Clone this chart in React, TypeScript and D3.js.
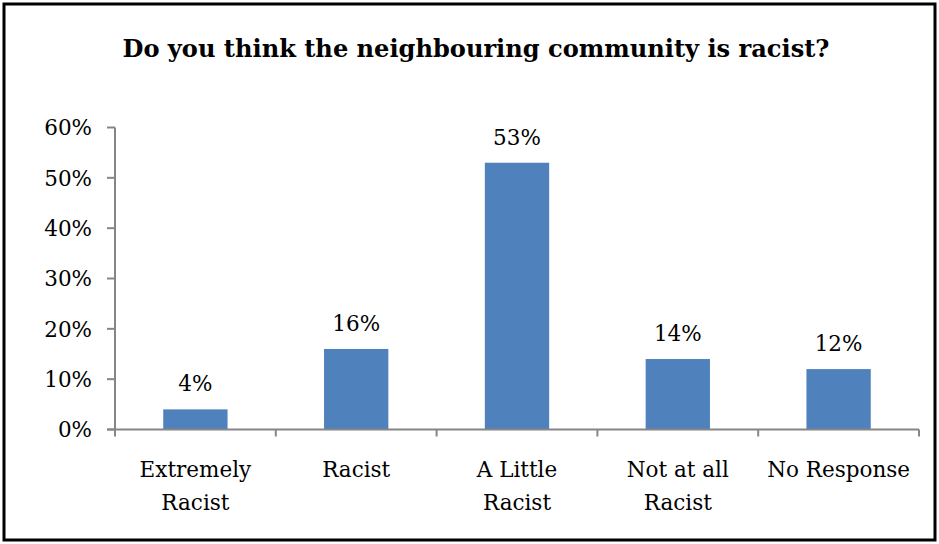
import React from "react";
import * as d3 from "d3";

const categories: string[][] = [
  ["Extremely", "Racist"],
  ["Racist"],
  ["A Little", "Racist"],
  ["Not at all", "Racist"],
  ["No Response"],
];
const values: number[] = [0.04, 0.16, 0.53, 0.14, 0.12];
const valueLabels: string[] = ["4%", "16%", "53%", "14%", "12%"];
const yTicks: number[] = [0, 0.1, 0.2, 0.3, 0.4, 0.5, 0.6];
const title = "Do you think the neighbouring community is racist?";

const W = 939;
const H = 544;
const plot = { left: 115, right: 919, top: 127.5, bottom: 429.5 };
const axisColor = "#868686";
const barColor = "#4F81BD";
const font = "'DejaVu Serif', serif";

export default function App() {
  const keys = categories.map((_, i) => String(i));
  const x = d3
    .scaleBand<string>()
    .domain(keys)
    .range([plot.left, plot.right])
    .paddingInner(0.6)
    .paddingOuter(0.3);
  const band = d3.scaleBand<string>().domain(keys).range([plot.left, plot.right]);
  const y = d3.scaleLinear().domain([0, 0.6]).range([plot.bottom, plot.top]);
  const fmt = d3.format(".0%");

  return (
    <svg
      width={W}
      height={H}
      style={{ position: "absolute", left: 0, top: 0, display: "block", background: "#fff" }}
    >
      <rect x={0} y={0} width={W} height={H} fill="#fff" />
      <rect x={4} y={4} width={931} height={536} fill="none" stroke="#000" strokeWidth={3} />
      <text
        x={476}
        y={57}
        textAnchor="middle"
        fontFamily={font}
        fontWeight="bold"
        fontSize={24.1}
        fill="#000"
      >
        {title}
      </text>

      {/* y axis */}
      <line x1={plot.left} x2={plot.left} y1={plot.top} y2={plot.bottom} stroke={axisColor} strokeWidth={2} />
      {yTicks.map((t) => (
        <g key={t}>
          <line x1={plot.left - 8} x2={plot.left} y1={y(t)} y2={y(t)} stroke={axisColor} strokeWidth={2} />
          <text
            x={92}
            y={y(t)}
            dy="0.36em"
            textAnchor="end"
            fontFamily={font}
            fontSize={21.5}
            fill="#000"
          >
            {fmt(t)}
          </text>
        </g>
      ))}

      {/* bars */}
      {values.map((v, i) => (
        <rect
          key={i}
          x={x(keys[i])!}
          y={y(v)}
          width={x.bandwidth()}
          height={y(0) - y(v)}
          fill={barColor}
        />
      ))}

      {/* x axis */}
      <line x1={plot.left - 8} x2={plot.right} y1={plot.bottom} y2={plot.bottom} stroke={axisColor} strokeWidth={2} />
      {[...keys.map((k) => band(k)!), plot.right].map((px, i) => (
        <line key={i} x1={px} x2={px} y1={plot.bottom} y2={plot.bottom + 7} stroke={axisColor} strokeWidth={2} />
      ))}

      {/* value labels */}
      {values.map((v, i) => (
        <text
          key={i}
          x={x(keys[i])! + x.bandwidth() / 2}
          y={y(v) - 18}
          textAnchor="middle"
          fontFamily={font}
          fontSize={21.5}
          fill="#000"
        >
          {valueLabels[i]}
        </text>
      ))}

      {/* category labels */}
      {categories.map((lines, i) => (
        <text
          key={i}
          x={band(keys[i])! + band.bandwidth() / 2}
          y={477}
          textAnchor="middle"
          fontFamily={font}
          fontSize={21.5}
          fill="#000"
        >
          {lines.map((l, j) => (
            <tspan key={j} x={band(keys[i])! + band.bandwidth() / 2} dy={j === 0 ? 0 : 33}>
              {l}
            </tspan>
          ))}
        </text>
      ))}
    </svg>
  );
}
